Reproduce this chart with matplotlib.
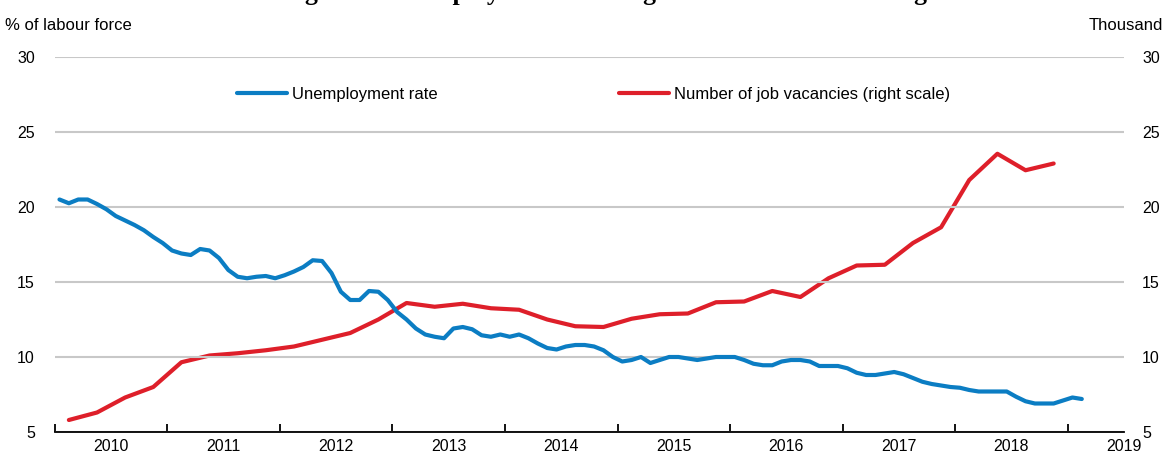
import numpy as np
import matplotlib
matplotlib.use("Agg")
import matplotlib.pyplot as plt

plt.rcParams['font.family'] = ['Liberation Sans', 'DejaVu Sans']

# ---------------- data ----------------
unemp_start_year = 2010
unemployment_rate = [
    20.5, 20.25, 20.5, 20.5, 20.2, 19.85, 19.4, 19.1, 18.8, 18.45, 18.0, 17.6,
    17.1, 16.9, 16.8, 17.2, 17.1, 16.6, 15.8, 15.35, 15.25, 15.35, 15.4, 15.25,
    15.45, 15.7, 16.0, 16.45, 16.4, 15.6, 14.35, 13.8, 13.8, 14.4, 14.35, 13.8,
    13.0, 12.5, 11.9, 11.5, 11.35, 11.25, 11.9, 12.0, 11.85, 11.45, 11.35, 11.5,
    11.35, 11.5, 11.25, 10.9, 10.6, 10.5, 10.7, 10.8, 10.8, 10.7, 10.45, 10.0,
    9.7, 9.8, 10.0, 9.6, 9.8, 10.0, 10.0, 9.9, 9.8, 9.9, 10.0, 10.0,
    10.0, 9.8, 9.55, 9.45, 9.45, 9.7, 9.8, 9.8, 9.7, 9.4, 9.4, 9.4,
    9.25, 8.95, 8.8, 8.8, 8.9, 9.0, 8.85, 8.6, 8.35, 8.2, 8.1, 8.0,
    7.95, 7.8, 7.7, 7.7, 7.7, 7.7, 7.35, 7.05, 6.9, 6.9, 6.9, 7.1,
    7.3, 7.2,
]
job_vacancies = [  # thousand, quarterly from 2010Q1
    5.8, 6.3, 7.3, 8.0,
    9.65, 10.1, 10.25, 10.45,
    10.7, 11.15, 11.6, 12.5,
    13.6, 13.35, 13.55, 13.25,
    13.15, 12.5, 12.05, 12.0,
    12.55, 12.85, 12.9, 13.65,
    13.7, 14.4, 14.0, 15.25,
    16.1, 16.15, 17.6, 18.65,
    21.8, 23.55, 22.45, 22.9,
]
years = [2010, 2011, 2012, 2013, 2014, 2015, 2016, 2017, 2018, 2019]
y_ticks = [5, 10, 15, 20, 25, 30]

title = "Figure 1. Unemployment is falling and vacancies are rising"
left_label = "% of labour force"
right_label = "Thousand"
series_names = ["Unemployment rate", "Number of job vacancies (right scale)"]

# ---------------- time axes ----------------
t_month = unemp_start_year + (np.arange(len(unemployment_rate)) + 0.5) / 12.0
t_quarter = unemp_start_year + (np.arange(len(job_vacancies)) + 0.5) / 4.0

BLUE = "#0B7DC3"
RED = "#DE1F2A"
GRID = "#C8C8C8"

W, H = 1166, 457
fig = plt.figure(figsize=(W / 100, H / 100), dpi=100)
left, right, bottom, top = 54.8, 1124, 432, 57
ax = fig.add_axes([left / W, (H - bottom) / H, (right - left) / W, (bottom - top) / H])
ax2 = ax.twinx()

ax.plot(t_month, unemployment_rate, color=BLUE, lw=3.0, solid_capstyle='round',
        solid_joinstyle='round', label=series_names[0], zorder=3)
ax2.plot(t_quarter, job_vacancies, color=RED, lw=3.0, solid_capstyle='round',
         solid_joinstyle='round', label=series_names[1], zorder=3)

for a in (ax, ax2):
    a.set_ylim(5, 30)
    a.set_yticks(y_ticks)
    a.set_xlim(years[0], years[-1] + 0.5)
    for s in ("top", "left", "right"):
        a.spines[s].set_visible(False)
ax.spines["bottom"].set_color("black")
ax.spines["bottom"].set_linewidth(1.3)
ax2.spines["bottom"].set_visible(False)

TS = 11.5
ax.set_yticklabels([str(v) for v in y_ticks])
ax2.set_yticklabels([str(v) for v in y_ticks])
ax.tick_params(axis='y', length=0, pad=14.4, labelsize=TS)
ax2.tick_params(axis='y', length=0, pad=13, labelsize=TS)

ax.set_xticks(years)
ax.set_xticklabels([])
ax.tick_params(axis='x', which='major', direction='in', length=6, width=1.3, color='black')
ax.set_xticks([y + 0.5 for y in years], minor=True)
ax.set_xticklabels([str(y) for y in years], minor=True)
ax.tick_params(axis='x', which='minor', length=0, pad=5, labelsize=TS)

ax.set_axisbelow(True)
ax.yaxis.grid(True, color=GRID, lw=1.5)
ax.set_zorder(ax2.get_zorder() + 1)
ax.patch.set_visible(False)

# texts
fig.text(5 / W, 1 - 25 / H, left_label, ha='left', va='center', fontsize=12)
fig.text(1163 / W, 1 - 25 / H, right_label, ha='right', va='center', fontsize=12)
fig.text(604 / W, 1.0, title, ha='center', va='baseline', fontsize=18.5,
         fontweight='bold', family='Liberation Serif')

h1, l1 = ax.get_legend_handles_labels()
h2, l2 = ax2.get_legend_handles_labels()
fig.legend(h1 + h2, l1 + l2, loc='center left', bbox_to_anchor=(237 / W, 1 - 94 / H),
           ncol=2, frameon=False, fontsize=12, handlelength=3.0, handletextpad=0.3,
           columnspacing=10.9, borderpad=0, borderaxespad=0)

fig.savefig("out.png", dpi=100)
